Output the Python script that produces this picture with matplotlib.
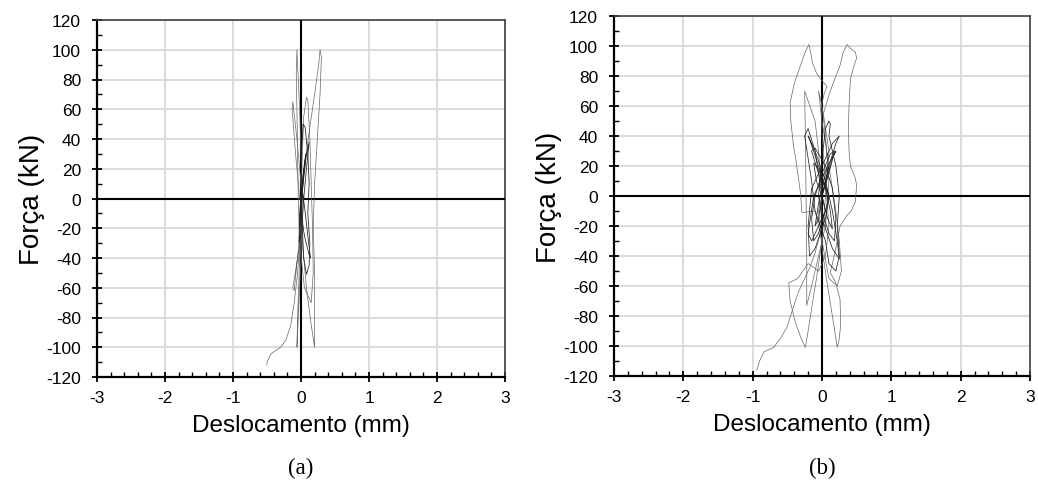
import matplotlib
matplotlib.use("Agg")
import matplotlib.pyplot as plt
from matplotlib.ticker import MultipleLocator

plt.rcParams['font.family'] = ['Liberation Sans', 'DejaVu Sans']
plt.rcParams['axes.unicode_minus'] = False

# ---------------- data: panel (a) cycles (displacement mm, force kN) -------------
a_c1_x = [0, 0.01, 0.02, 0.01, 0, -0.01, -0.01, 0, 0]
a_c1_y = [0, 5, 10, 5, 0, -5, -10, -5, 0]
a_c2_x = [0, 0.02, 0.04, 0.03, 0.01, -0.01, -0.02, 0, 0.01]
a_c2_y = [0, 10, 20, 12, 0, -10, -20, -10, 0]
a_c3_x = [0.01, 0.04, 0.07, 0.04, 0.01, -0.02, -0.03, 0.02, 0.04]
a_c3_y = [0, 15, 30, 20, 5, -10, -30, -15, 0]
a_c4_x = [0.04, 0.08, 0.12, 0.08, 0.03, 0.0, 0.05, 0.12, 0.14, 0.10, 0.05, 0.02]
a_c4_y = [0, 20, 38, 30, 10, -10, -25, -38, -40, -25, -5, 5]
a_c5_x = [0.02, 0.0, 0.03, 0.06, 0.10, 0.12, 0.10, 0.13, 0.12, 0.08, 0.04, 0.02, 0]
a_c5_y = [5, 25, 50, 48, 30, 10, -10, -30, -45, -51, -40, -20, 0]
a_c6_x = [0, 0.02, 0.04, 0.08, 0.10, 0.13, 0.15, 0.17, 0.18, 0.15, 0.05, -0.02, -0.04]
a_c6_y = [0, 30, 55, 68, 66, 40, 10, -20, -50, -70, -60, -30, 0]
a_c7_x = [-0.04, -0.05, -0.06, -0.07, -0.06, -0.05, -0.02, 0.0, 0.02, 0.0, -0.03, -0.06, -0.05, -0.02, 0]
a_c7_y = [0, 30, 60, 85, 100, 90, 60, 30, 0, -40, -70, -100, -80, -40, 0]
a_c8_x = [0, 0.05, 0.12, 0.20, 0.26, 0.28, 0.30, 0.28, 0.24, 0.20, 0.18, 0.20, 0.20, 0.20, 0.15, 0.08, 0.02, 0]
a_c8_y = [0, 20, 45, 70, 90, 100, 95, 70, 40, 10, -20, -50, -80, -100, -85, -60, -30, 0]
a_c9_x = [-0.02, -0.08, -0.13, -0.12, -0.06, 0.0, 0.03, -0.05, -0.12, -0.10, -0.03, 0]
a_c9_y = [0, 30, 60, 65, 40, 10, -20, -40, -60, -62, -30, 0]
a_tail_x = [0, -0.02, -0.05, -0.10, -0.15, -0.22, -0.30, -0.40, -0.45, -0.50, -0.50]
a_tail_y = [0, -30, -50, -70, -85, -95, -100, -103, -105, -110, -112]

# ---------------- data: panel (b) cycles ----------------
b_c1_x = [0, 0.05, 0.10, 0.05, 0, -0.05, -0.10, -0.05, 0]
b_c1_y = [0, 10, 20, 15, 5, -5, -20, -15, 0]
b_c2_x = [0, -0.08, -0.12, -0.05, 0.05, 0.12, 0.15, 0.08, 0]
b_c2_y = [0, 10, 22, 18, 5, -10, -22, -15, 0]
b_c3_x = [0, 0.10, 0.18, 0.12, 0.0, -0.10, -0.15, -0.12, -0.05, 0.05, 0.10]
b_c3_y = [0, 15, 30, 28, 15, 0, -15, -30, -25, -10, 0]
b_c4_x = [0.10, -0.05, -0.15, -0.10, 0.05, 0.15, 0.20, 0.18, 0.10, 0, 0]
b_c4_y = [0, 15, 30, 32, 20, 5, -15, -30, -25, -10, 0]
b_c5_x = [0, 0.10, 0.20, 0.25, 0.15, 0.0, -0.15, -0.20, -0.18, -0.10, 0.05, 0.10]
b_c5_y = [0, 20, 35, 40, 35, 20, 5, -20, -40, -35, -15, 0]
b_c6_x = [0.10, -0.05, -0.18, -0.20, -0.10, 0.05, 0.15, 0.22, 0.25, 0.15, 0.0, -0.05]
b_c6_y = [0, 20, 38, 40, 30, 10, -10, -30, -42, -35, -15, 0]
b_c7_x = [-0.05, 0.0, 0.05, 0.10, 0.12, 0.10, 0.20, 0.25, 0.22, 0.25, 0.20, 0.10, 0.05, -0.10, -0.15, -0.25, -0.20, -0.10, 0]
b_c7_y = [0, 25, 45, 50, 48, 40, 20, 0, -20, -40, -50, -45, -30, -10, 10, 40, 45, 30, 0]
b_c11_x = [0, 0.15, 0.20, 0.08, -0.12, -0.20, -0.15, 0.05, 0]
b_c11_y = [0, 25, 30, 20, 0, -25, -30, -10, 0]
b_c8_x = [0, -0.05, -0.10, -0.25, -0.24, -0.23, -0.22, -0.22, -0.15, -0.05, 0.05, 0.10, 0.05, 0.0, -0.05, 0, 0.10, 0.20, 0.25, 0.28, 0.22, 0.10, 0.0]
b_c8_y = [0, 30, 50, 70, 40, 0, -40, -73, -60, -40, -20, 10, 40, 60, 70, 50, 20, -10, -30, -50, -60, -55, -30]
b_c9_x = [0.0, -0.10, -0.29, -0.31, -0.38, -0.41, -0.45, -0.46, -0.40, -0.31, -0.25, -0.19, -0.16, -0.14, -0.08, -0.02, 0.07, 0.03, -0.01, 0.0, 0.05, 0.10, 0.05, -0.05,
          -0.20, -0.35, -0.48, -0.46, -0.38, -0.30, -0.24, -0.20, -0.15, -0.08, 0.0, 0.05]
b_c9_y = [-30, -10, -11, 2, 25, 33, 50, 62, 75, 87, 95, 101, 95, 89, 82, 78, 73, 68, 60, 40, 10, -20, -40, -50,
          -45, -55, -58, -70, -85, -95, -101, -90, -75, -55, -30, 0]
b_c10_x = [0.05, 0.10, 0.05, 0.02, 0.08, 0.12, 0.20, 0.26, 0.30, 0.36, 0.42, 0.48, 0.50, 0.45, 0.41, 0.39, 0.38, 0.39, 0.41, 0.48, 0.50, 0.48, 0.42, 0.36,
           0.26, 0.20, 0.12, 0.20, 0.26, 0.27, 0.25, 0.22, 0.20, 0.15, 0.08, 0.0, -0.05, 0.0]
b_c10_y = [0, 30, 45, 55, 64, 70, 80, 87, 95, 101, 98, 96, 92, 85, 78, 60, 47, 30, 20, 12, 7, -4, -10, -13,
           -20, -35, -51, -58, -69, -85, -95, -101, -95, -80, -60, -35, -10, 0]
b_tail_x = [0, -0.02, -0.10, -0.17, -0.25, -0.34, -0.42, -0.50, -0.60, -0.70, -0.84, -0.90, -0.94]
b_tail_y = [0, -24, -38, -47, -55, -64, -75, -87, -95, -101, -104, -110, -116]

x_ticks = [-3, -2, -1, 0, 1, 2, 3]
y_ticks = [-120, -100, -80, -60, -40, -20, 0, 20, 40, 60, 80, 100, 120]
x_label = "Deslocamento (mm)"
y_label = "Força (kN)"
panel_labels = ["(a)", "(b)"]

panel_a_inner = [(a_c1_x, a_c1_y), (a_c2_x, a_c2_y), (a_c3_x, a_c3_y), (a_c4_x, a_c4_y), (a_c5_x, a_c5_y)]
panel_a_outer = [(a_c6_x, a_c6_y), (a_c7_x, a_c7_y), (a_c8_x, a_c8_y), (a_c9_x, a_c9_y), (a_tail_x, a_tail_y)]
panel_b_inner = [(b_c1_x, b_c1_y), (b_c2_x, b_c2_y), (b_c3_x, b_c3_y), (b_c4_x, b_c4_y),
                 (b_c5_x, b_c5_y), (b_c6_x, b_c6_y), (b_c7_x, b_c7_y), (b_c11_x, b_c11_y)]
panel_b_outer = [(b_c8_x, b_c8_y), (b_c9_x, b_c9_y), (b_c10_x, b_c10_y), (b_tail_x, b_tail_y)]

fig = plt.figure(figsize=(10.38, 4.85), dpi=100)
ax_a = fig.add_axes([97/1038, 1-378/485, 408/1038, 357/485])
ax_b = fig.add_axes([614/1038, 1-377/485, 416/1038, 360/485])

for ax, inner, outer, lab in [(ax_a, panel_a_inner, panel_a_outer, panel_labels[0]),
                              (ax_b, panel_b_inner, panel_b_outer, panel_labels[1])]:
    ax.set_xlim(-3, 3)
    ax.set_ylim(-120, 120)
    ax.set_xticks(x_ticks)
    ax.set_yticks(y_ticks)
    ax.xaxis.set_minor_locator(MultipleLocator(0.2))
    ax.yaxis.set_minor_locator(MultipleLocator(10))
    ax.grid(True, which='major', color='#d9d9d9', lw=1.3, zorder=0)
    ax.set_axisbelow(True)
    ax.axhline(0, color='black', lw=1.5, zorder=3)
    ax.axvline(0, color='black', lw=1.5, zorder=3)
    for x, y in outer:
        ax.plot(x, y, color='#666666', lw=0.5, zorder=4)
    for x, y in inner:
        ax.plot(x, y, color='#222222', lw=0.55, zorder=4)
    for s in ['left', 'bottom']:
        ax.spines[s].set_color('black')
        ax.spines[s].set_linewidth(1.6)
    for s in ['top', 'right']:
        ax.spines[s].set_color('#404040')
        ax.spines[s].set_linewidth(1.2)
    ax.tick_params(which='major', direction='inout', length=7, width=1.3, labelsize=12.5, pad=6)
    ax.tick_params(which='minor', direction='in', length=3.5, width=1.0)
    ax.tick_params(axis='y', which='major', pad=8)
    ax.set_xlabel(x_label, fontsize=17.5, labelpad=6)
    ax.set_ylabel(y_label, fontsize=20, labelpad=1)
    pos = ax.get_position()
    fig.text((pos.x0 + pos.x1) / 2, 1 - 468/485, lab, ha='center', va='center',
             fontsize=16.5, family=['Liberation Serif', 'DejaVu Serif'])

fig.savefig("out.png", dpi=100)
